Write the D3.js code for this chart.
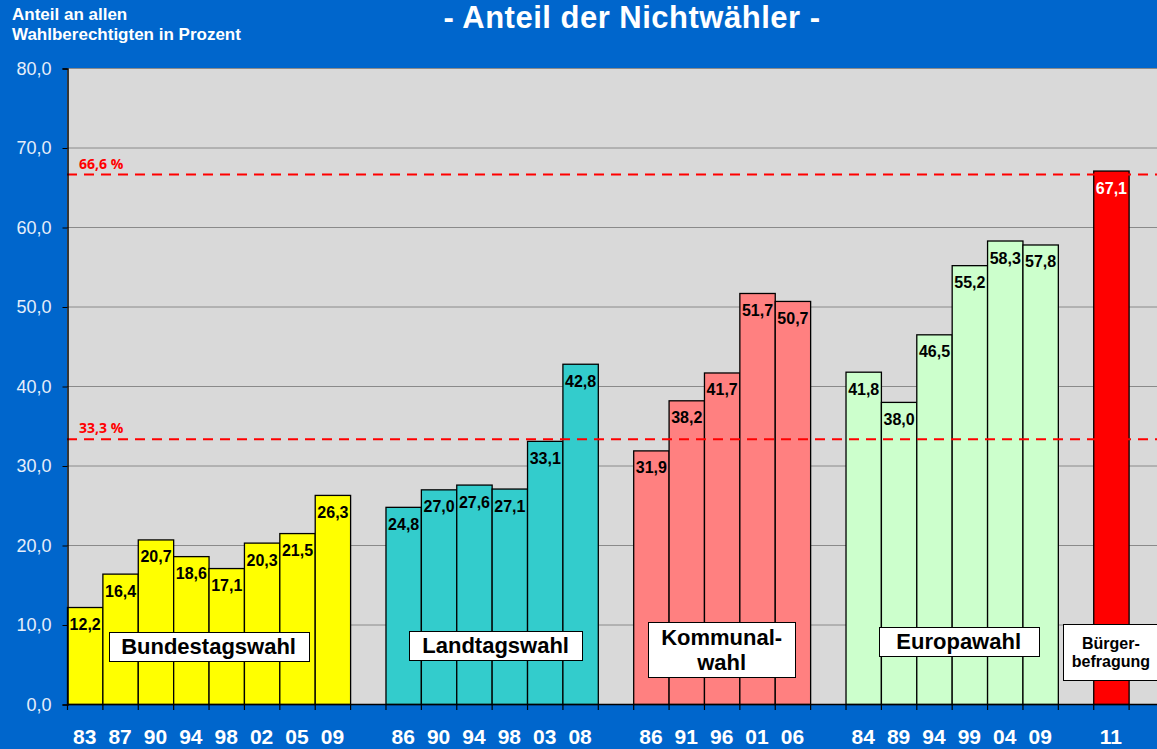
<!DOCTYPE html>
<html><head><meta charset="utf-8">
<script src="https://cdn.jsdelivr.net/npm/d3@7"></script>
<style>
html,body{margin:0;padding:0;background:#0066cc;overflow:hidden}
svg{display:block;font-family:"Liberation Sans",Arial,sans-serif}
</style></head>
<body><svg id="chart" width="1157" height="749"></svg>
<script>
// ---- data ----
const groupNames = ["Bundestagswahl", "Landtagswahl", "Kommunal-|wahl", "Europawahl", "Bürger-|befragung"];
const groupColors = ["#ffff00", "#33cccc", "#ff8080", "#ccffcc", "#ff0000"];
const bundestagYears = ["83","87","90","94","98","02","05","09"];
const bundestagValues = [12.2,16.4,20.7,18.6,17.1,20.3,21.5,26.3];
const landtagYears = ["86","90","94","98","03","08"];
const landtagValues = [24.8,27.0,27.6,27.1,33.1,42.8];
const kommunalYears = ["86","91","96","01","06"];
const kommunalValues = [31.9,38.2,41.7,51.7,50.7];
const europaYears = ["84","89","94","99","04","09"];
const europaValues = [41.8,38.0,46.5,55.2,58.3,57.8];
const buergerYears = ["11"];
const buergerValues = [67.1];
const refLines = [66.6, 33.3];
const yTicks = [0,10,20,30,40,50,60,70,80];

(function(){
const groups = [
  {years: bundestagYears, values: bundestagValues},
  {years: landtagYears, values: landtagValues},
  {years: kommunalYears, values: kommunalValues},
  {years: europaYears, values: europaValues},
  {years: buergerYears, values: buergerValues}
];

const slots = [];
const bars = [];
groups.forEach((g, gi) => {
  g.years.forEach((yr, i) => {
    const key = "g" + gi + "_" + i;
    slots.push(key);
    bars.push({key, year: yr, value: g.values[i], group: gi});
  });
  slots.push("gap" + gi);
});

const svg = d3.select("#chart");
const W = 1157, H = 749;
const mLeft = 67, mTop = 68, mBottom = 704, mRight = 1164;

const x = d3.scaleBand().domain(slots).range([mLeft, mRight]).padding(0);
const y = d3.scaleLinear().domain([0, 80]).range([mBottom, mTop]);

svg.append("rect").attr("width", W).attr("height", H).attr("fill", "#0066cc");
svg.append("rect").attr("x", mLeft).attr("y", mTop).attr("width", mRight - mLeft).attr("height", mBottom - mTop)
  .attr("fill", "#d9d9d9");

svg.append("g").selectAll("line").data(yTicks.filter(d => d > 0)).join("line")
  .attr("x1", mLeft).attr("x2", mRight)
  .attr("y1", d => y(d) + 0.5).attr("y2", d => y(d) + 0.5)
  .attr("stroke", "#8a8a8a").attr("stroke-width", 1);

svg.append("g").selectAll("rect").data(bars).join("rect")
  .attr("x", d => x(d.key) + 0.5)
  .attr("y", d => y(d.value) + 0.5)
  .attr("width", x.bandwidth())
  .attr("height", d => y(0) - y(d.value))
  .attr("fill", d => groupColors[d.group])
  .attr("stroke", "#000").attr("stroke-width", 1.3);

refLines.forEach(v => {
  svg.append("line").attr("x1", mLeft).attr("x2", mRight)
    .attr("y1", y(v)).attr("y2", y(v))
    .attr("stroke", "#ff0000").attr("stroke-width", 2).attr("stroke-dasharray", "10,7");
  svg.append("text").attr("x", mLeft + 12).attr("y", y(v) - 6)
    .attr("fill", "#ff0000").attr("font-size", 14).attr("font-weight", "bold")
    .attr("font-family", "'Open Sans',sans-serif")
    .text(d3.format(".1f")(v).replace(".", ",") + " %");
});

svg.append("g").selectAll("text").data(bars).join("text")
  .attr("x", d => x(d.key) + x.bandwidth() / 2 + 0.5)
  .attr("y", d => y(d.value) + 23)
  .attr("text-anchor", "middle")
  .attr("font-size", 16).attr("font-weight", "bold")
  .attr("fill", d => d.group === 4 ? "#ffffff" : "#000000")
  .text(d => d3.format(".1f")(d.value).replace(".", ","));

const yAxis = d3.axisLeft(y).tickValues(yTicks).tickSize(5).tickPadding(11)
  .tickFormat(d => d3.format(".1f")(d).replace(".", ","));
const ya = svg.append("g").attr("transform", `translate(${mLeft + 0.5},0.5)`).call(yAxis);
ya.select(".domain").attr("stroke", "#000").attr("stroke-width", 1.5);
ya.selectAll(".tick line").attr("stroke", "#000");
ya.selectAll(".tick text").attr("fill", "#e6eefa").attr("font-size", 18)
  .attr("font-family", "'Liberation Sans',Arial,sans-serif");

svg.append("line").attr("x1", mLeft).attr("x2", mRight).attr("y1", mBottom + 0.5).attr("y2", mBottom + 0.5)
  .attr("stroke", "#000").attr("stroke-width", 1.5);
svg.append("g").selectAll("line").data(slots).join("line")
  .attr("x1", d => x(d) + 0.5).attr("x2", d => x(d) + 0.5)
  .attr("y1", mBottom).attr("y2", mBottom + 6)
  .attr("stroke", "#000").attr("stroke-width", 1.2);

svg.append("g").selectAll("text").data(bars).join("text")
  .attr("x", d => x(d.key) + x.bandwidth() / 2)
  .attr("y", 744)
  .attr("text-anchor", "middle")
  .attr("font-size", 21).attr("font-weight", "bold").attr("fill", "#ffffff")
  .text(d => d.year);

const boxSpecs = [
  {cy: 646, w: 200, h: 29, fs: 22},
  {cy: 645.5, w: 173, h: 29, fs: 22},
  {cy: 649.5, w: 147, h: 55, fs: 22},
  {cy: 641.5, w: 160, h: 29, fs: 22},
  {cy: 652, w: 96, h: 56, fs: 16}
];
groups.forEach((g, gi) => {
  const first = x("g" + gi + "_0");
  const last = x("g" + gi + "_" + (g.years.length - 1)) + x.bandwidth();
  const cx = (first + last) / 2 + (gi === 3 ? 7 : (gi === 1 ? 4 : 0));
  const s = boxSpecs[gi];
  const gg = svg.append("g");
  gg.append("rect").attr("x", Math.round(cx - s.w / 2) + 0.5).attr("y", Math.round(s.cy - s.h / 2) + 0.5)
    .attr("width", s.w).attr("height", s.h)
    .attr("fill", "#ffffff").attr("stroke", "#000").attr("stroke-width", 1);
  const lines = groupNames[gi].split("|");
  const lh = s.fs * 1.15;
  lines.forEach((ln, li) => {
    gg.append("text").attr("x", cx).attr("y", s.cy + (li - (lines.length - 1) / 2) * lh + s.fs * 0.36)
      .attr("text-anchor", "middle").attr("font-size", s.fs).attr("font-weight", "bold")
      .attr("fill", "#000").text(ln);
  });
});

svg.append("text").attr("x", 632).attr("y", 28).attr("text-anchor", "middle")
  .attr("font-size", 31).attr("font-weight", "bold").attr("fill", "#ffffff")
  .attr("letter-spacing", 0.5)
  .text("- Anteil der Nichtwähler -");
svg.append("text").attr("x", 12).attr("y", 20).attr("font-size", 17).attr("font-weight", "bold")
  .attr("fill", "#ffffff").text("Anteil an allen");
svg.append("text").attr("x", 12).attr("y", 40).attr("font-size", 17).attr("font-weight", "bold")
  .attr("fill", "#ffffff").text("Wahlberechtigten in Prozent");
})();
</script></body></html>
